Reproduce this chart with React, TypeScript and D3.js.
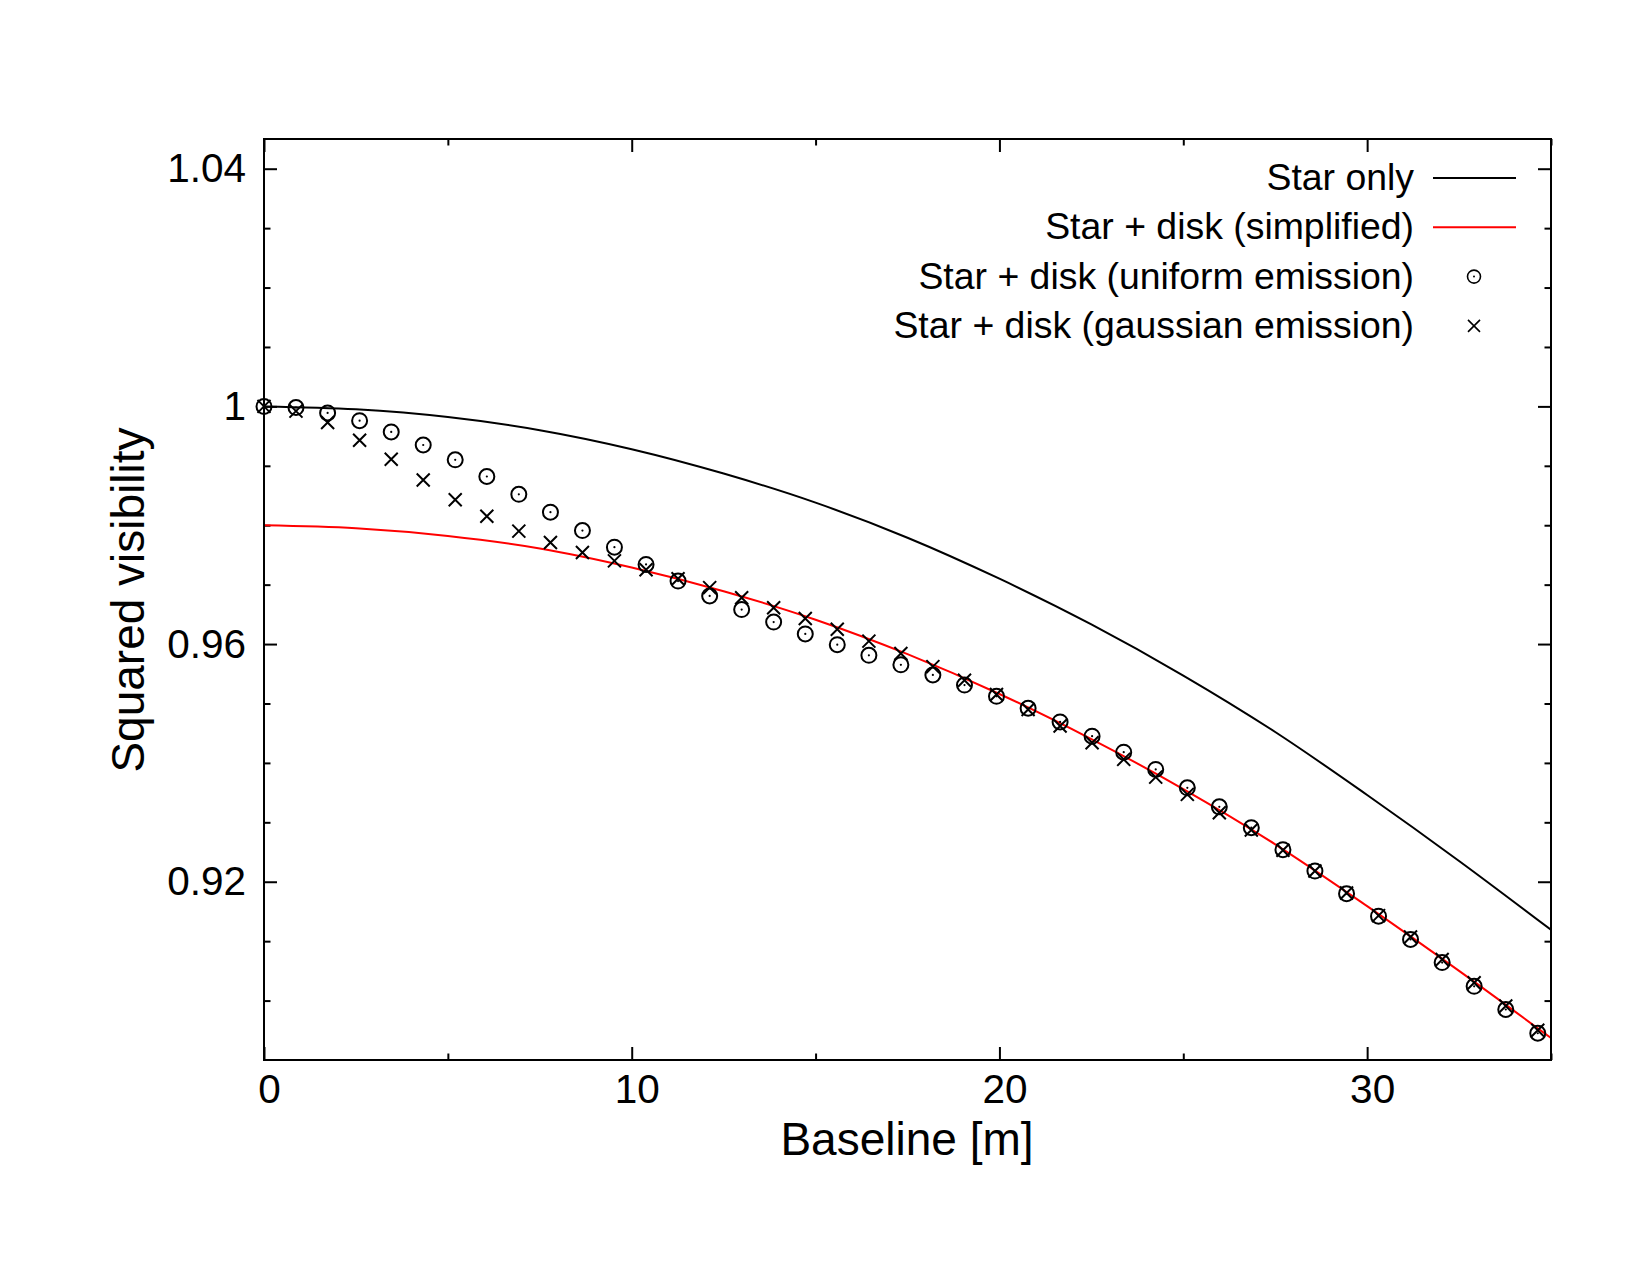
import React, { useEffect, useRef } from "react";
import * as d3 from "d3";

// Smooth model curves, sampled every 2.5 m
const curveBaselines = [0, 2.5, 5, 7.5, 10, 12.5, 15, 17.5, 20, 22.5, 25, 27.5, 30, 32.5, 35];
const starOnly = [
  1.0, 0.9995, 0.9982, 0.996, 0.9928, 0.9887, 0.9838, 0.9779, 0.971, 0.9633, 0.9547, 0.9452,
  0.9346, 0.9235, 0.9119,
];
const starDiskSimplified = [
  0.98, 0.9795, 0.9782, 0.9761, 0.9729, 0.9689, 0.9641, 0.9583, 0.9516, 0.944, 0.9356, 0.9263,
  0.9159, 0.905, 0.8937,
];

// Numerical models at discrete baselines
const pointBaselines = [
  0, 0.87, 1.73, 2.6, 3.46, 4.33, 5.2, 6.06, 6.93, 7.79, 8.66, 9.53, 10.39, 11.26, 12.12, 12.99,
  13.86, 14.72, 15.59, 16.45, 17.32, 18.19, 19.05, 19.92, 20.78, 21.65, 22.52, 23.38, 24.25, 25.11,
  25.98, 26.85, 27.71, 28.58, 29.44, 30.31, 31.18, 32.04, 32.91, 33.77, 34.64,
];
const uniformEmission = [
  1.0, 0.9998, 0.9989, 0.9976, 0.9957, 0.9935, 0.991, 0.9882, 0.9852, 0.9822, 0.9791, 0.9763,
  0.9734, 0.9706, 0.9681, 0.9658, 0.9637, 0.9617, 0.9599, 0.9581, 0.9565, 0.9548, 0.9531, 0.9512,
  0.9492, 0.9469, 0.9445, 0.9418, 0.9389, 0.9358, 0.9326, 0.9291, 0.9254, 0.9218, 0.918, 0.9142,
  0.9103, 0.9064, 0.9024, 0.8985, 0.8945,
];
const gaussianEmission = [
  1.0, 0.9992, 0.9973, 0.9943, 0.9911, 0.9876, 0.9843, 0.9815, 0.979, 0.9771, 0.9754, 0.974,
  0.9725, 0.971, 0.9695, 0.9678, 0.9661, 0.9643, 0.9625, 0.9605, 0.9584, 0.9562, 0.9539, 0.9515,
  0.949, 0.9462, 0.9434, 0.9406, 0.9376, 0.9347, 0.9316, 0.9287, 0.9253, 0.9218, 0.9181, 0.9143,
  0.9107, 0.9069, 0.903, 0.8991, 0.895,
];

const xMajor = [0, 10, 20, 30];
const xMinor = [5, 15, 25, 35];
const yMajor = [0.92, 0.96, 1.0, 1.04];
const yMinor = [0.9, 0.91, 0.93, 0.94, 0.95, 0.97, 0.98, 0.99, 1.01, 1.02, 1.03];

const legendItems = [
  { label: "Star only", kind: "line", color: "#000" },
  { label: "Star + disk (simplified)", kind: "line", color: "#ff0000" },
  { label: "Star + disk (uniform emission)", kind: "circle", color: "#000" },
  { label: "Star + disk (gaussian emission)", kind: "cross", color: "#000" },
];

const W = 1650;
const H = 1275;
const FONT = "'Liberation Sans', Arial, Helvetica, sans-serif";

const App: React.FC = () => {
  const ref = useRef<SVGSVGElement | null>(null);

  useEffect(() => {
    const margin = { top: 139, right: 99, bottom: 215, left: 264 };
    const width = W - margin.left - margin.right;
    const height = H - margin.top - margin.bottom;

    const x = d3.scaleLinear().domain([0, 35]).range([0, width]);
    const y = d3.scaleLinear().domain([0.89, 1.045]).range([height, 0]);

    const svg = d3.select(ref.current);
    svg.selectAll("*").remove();

    svg.append("rect").attr("width", W).attr("height", H).attr("fill", "#fff");

    const g = svg.append("g").attr("transform", `translate(${margin.left},${margin.top})`);

    svg
      .append("defs")
      .append("clipPath")
      .attr("id", "plot-clip")
      .append("rect")
      .attr("width", width)
      .attr("height", height);

    // inward ticks on all four sides, labels only bottom / left
    const styleAxis = (sel: d3.Selection<SVGGElement, unknown, null, undefined>) => {
      sel.select(".domain").remove();
      sel.selectAll("line").attr("stroke", "#000").attr("stroke-width", 2);
      sel
        .selectAll("text")
        .attr("font-family", FONT)
        .attr("font-size", 40.5)
        .attr("fill", "#000");
    };

    const bottom = g
      .append("g")
      .attr("transform", `translate(0,${height})`)
      .call(d3.axisBottom(x).tickValues(xMajor).tickSize(-13).tickPadding(14).tickFormat(d3.format("d")));
    styleAxis(bottom);
    bottom.selectAll("text").attr("x", 5);

    const bottomMinor = g
      .append("g")
      .attr("transform", `translate(0,${height})`)
      .call(d3.axisBottom(x).tickValues(xMinor).tickSize(-6.5).tickFormat(() => ""));
    styleAxis(bottomMinor);

    const top = g.append("g").call(d3.axisTop(x).tickValues(xMajor).tickSize(-13).tickFormat(() => ""));
    styleAxis(top);
    const topMinor = g.append("g").call(d3.axisTop(x).tickValues(xMinor).tickSize(-6.5).tickFormat(() => ""));
    styleAxis(topMinor);

    const left = g
      .append("g")
      .call(d3.axisLeft(y).tickValues(yMajor).tickSize(-13).tickPadding(18).tickFormat((d) => `${+d}`));
    styleAxis(left);
    const leftMinor = g.append("g").call(d3.axisLeft(y).tickValues(yMinor).tickSize(-6.5).tickFormat(() => ""));
    styleAxis(leftMinor);

    const right = g
      .append("g")
      .attr("transform", `translate(${width},0)`)
      .call(d3.axisRight(y).tickValues(yMajor).tickSize(-13).tickFormat(() => ""));
    styleAxis(right);
    const rightMinor = g
      .append("g")
      .attr("transform", `translate(${width},0)`)
      .call(d3.axisRight(y).tickValues(yMinor).tickSize(-6.5).tickFormat(() => ""));
    styleAxis(rightMinor);

    // model curves
    const line = d3
      .line<number>()
      .x((_, i) => x(curveBaselines[i]))
      .y((d) => y(d))
      .curve(d3.curveMonotoneX);

    const curves = g.append("g").attr("clip-path", "url(#plot-clip)");
    curves
      .append("path")
      .attr("d", line(starDiskSimplified))
      .attr("fill", "none")
      .attr("stroke", "#ff0000")
      .attr("stroke-width", 2);
    curves
      .append("path")
      .attr("d", line(starOnly))
      .attr("fill", "none")
      .attr("stroke", "#000")
      .attr("stroke-width", 2);

    // circles with a centre dot
    const circ = g
      .append("g")
      .selectAll("g")
      .data(uniformEmission)
      .enter()
      .append("g")
      .attr("transform", (d, i) => `translate(${x(pointBaselines[i])},${y(d)})`);
    circ.append("circle").attr("r", 7.5).attr("fill", "none").attr("stroke", "#000").attr("stroke-width", 2);
    circ.append("circle").attr("r", 1.1).attr("fill", "#000");

    // crosses
    const cs = 6.5;
    g.append("g")
      .selectAll("path")
      .data(gaussianEmission)
      .enter()
      .append("path")
      .attr("transform", (d, i) => `translate(${x(pointBaselines[i])},${y(d)})`)
      .attr("d", `M${-cs},${-cs}L${cs},${cs}M${-cs},${cs}L${cs},${-cs}`)
      .attr("stroke", "#000")
      .attr("stroke-width", 2)
      .attr("fill", "none");

    // frame
    g.append("rect")
      .attr("width", width)
      .attr("height", height)
      .attr("fill", "none")
      .attr("stroke", "#000")
      .attr("stroke-width", 2);

    // axis titles
    svg
      .append("text")
      .attr("x", 907)
      .attr("y", 1155)
      .attr("text-anchor", "middle")
      .attr("font-family", FONT)
      .attr("font-size", 46)
      .text("Baseline [m]");

    svg
      .append("text")
      .attr("transform", "translate(144,600) rotate(-90)")
      .attr("text-anchor", "middle")
      .attr("font-family", FONT)
      .attr("font-size", 46)
      .text("Squared visibility");

    // legend
    const leg = svg.append("g");
    legendItems.forEach((item, i) => {
      const base = 190 + i * 49.3;
      const cy = base - 12;
      leg
        .append("text")
        .attr("x", 1414)
        .attr("y", base)
        .attr("text-anchor", "end")
        .attr("font-family", FONT)
        .attr("font-size", 37.4)
        .text(item.label);
      if (item.kind === "line") {
        leg
          .append("line")
          .attr("x1", 1433)
          .attr("x2", 1516)
          .attr("y1", cy)
          .attr("y2", cy)
          .attr("stroke", item.color)
          .attr("stroke-width", 2);
      } else if (item.kind === "circle") {
        leg.append("circle").attr("cx", 1474).attr("cy", cy).attr("r", 6.5).attr("fill", "none").attr("stroke", "#000").attr("stroke-width", 1.6);
        leg.append("circle").attr("cx", 1474).attr("cy", cy).attr("r", 1).attr("fill", "#000");
      } else {
        leg
          .append("path")
          .attr("transform", `translate(1474,${cy})`)
          .attr("d", "M-6,-6L6,6M-6,6L6,-6")
          .attr("stroke", "#000")
          .attr("stroke-width", 1.6);
      }
    });
  }, []);

  return (
    <svg
      ref={ref}
      width={W}
      height={H}
      viewBox={`0 0 ${W} ${H}`}
      style={{ position: "absolute", left: 0, top: 0, display: "block" }}
    />
  );
};

export default App;
